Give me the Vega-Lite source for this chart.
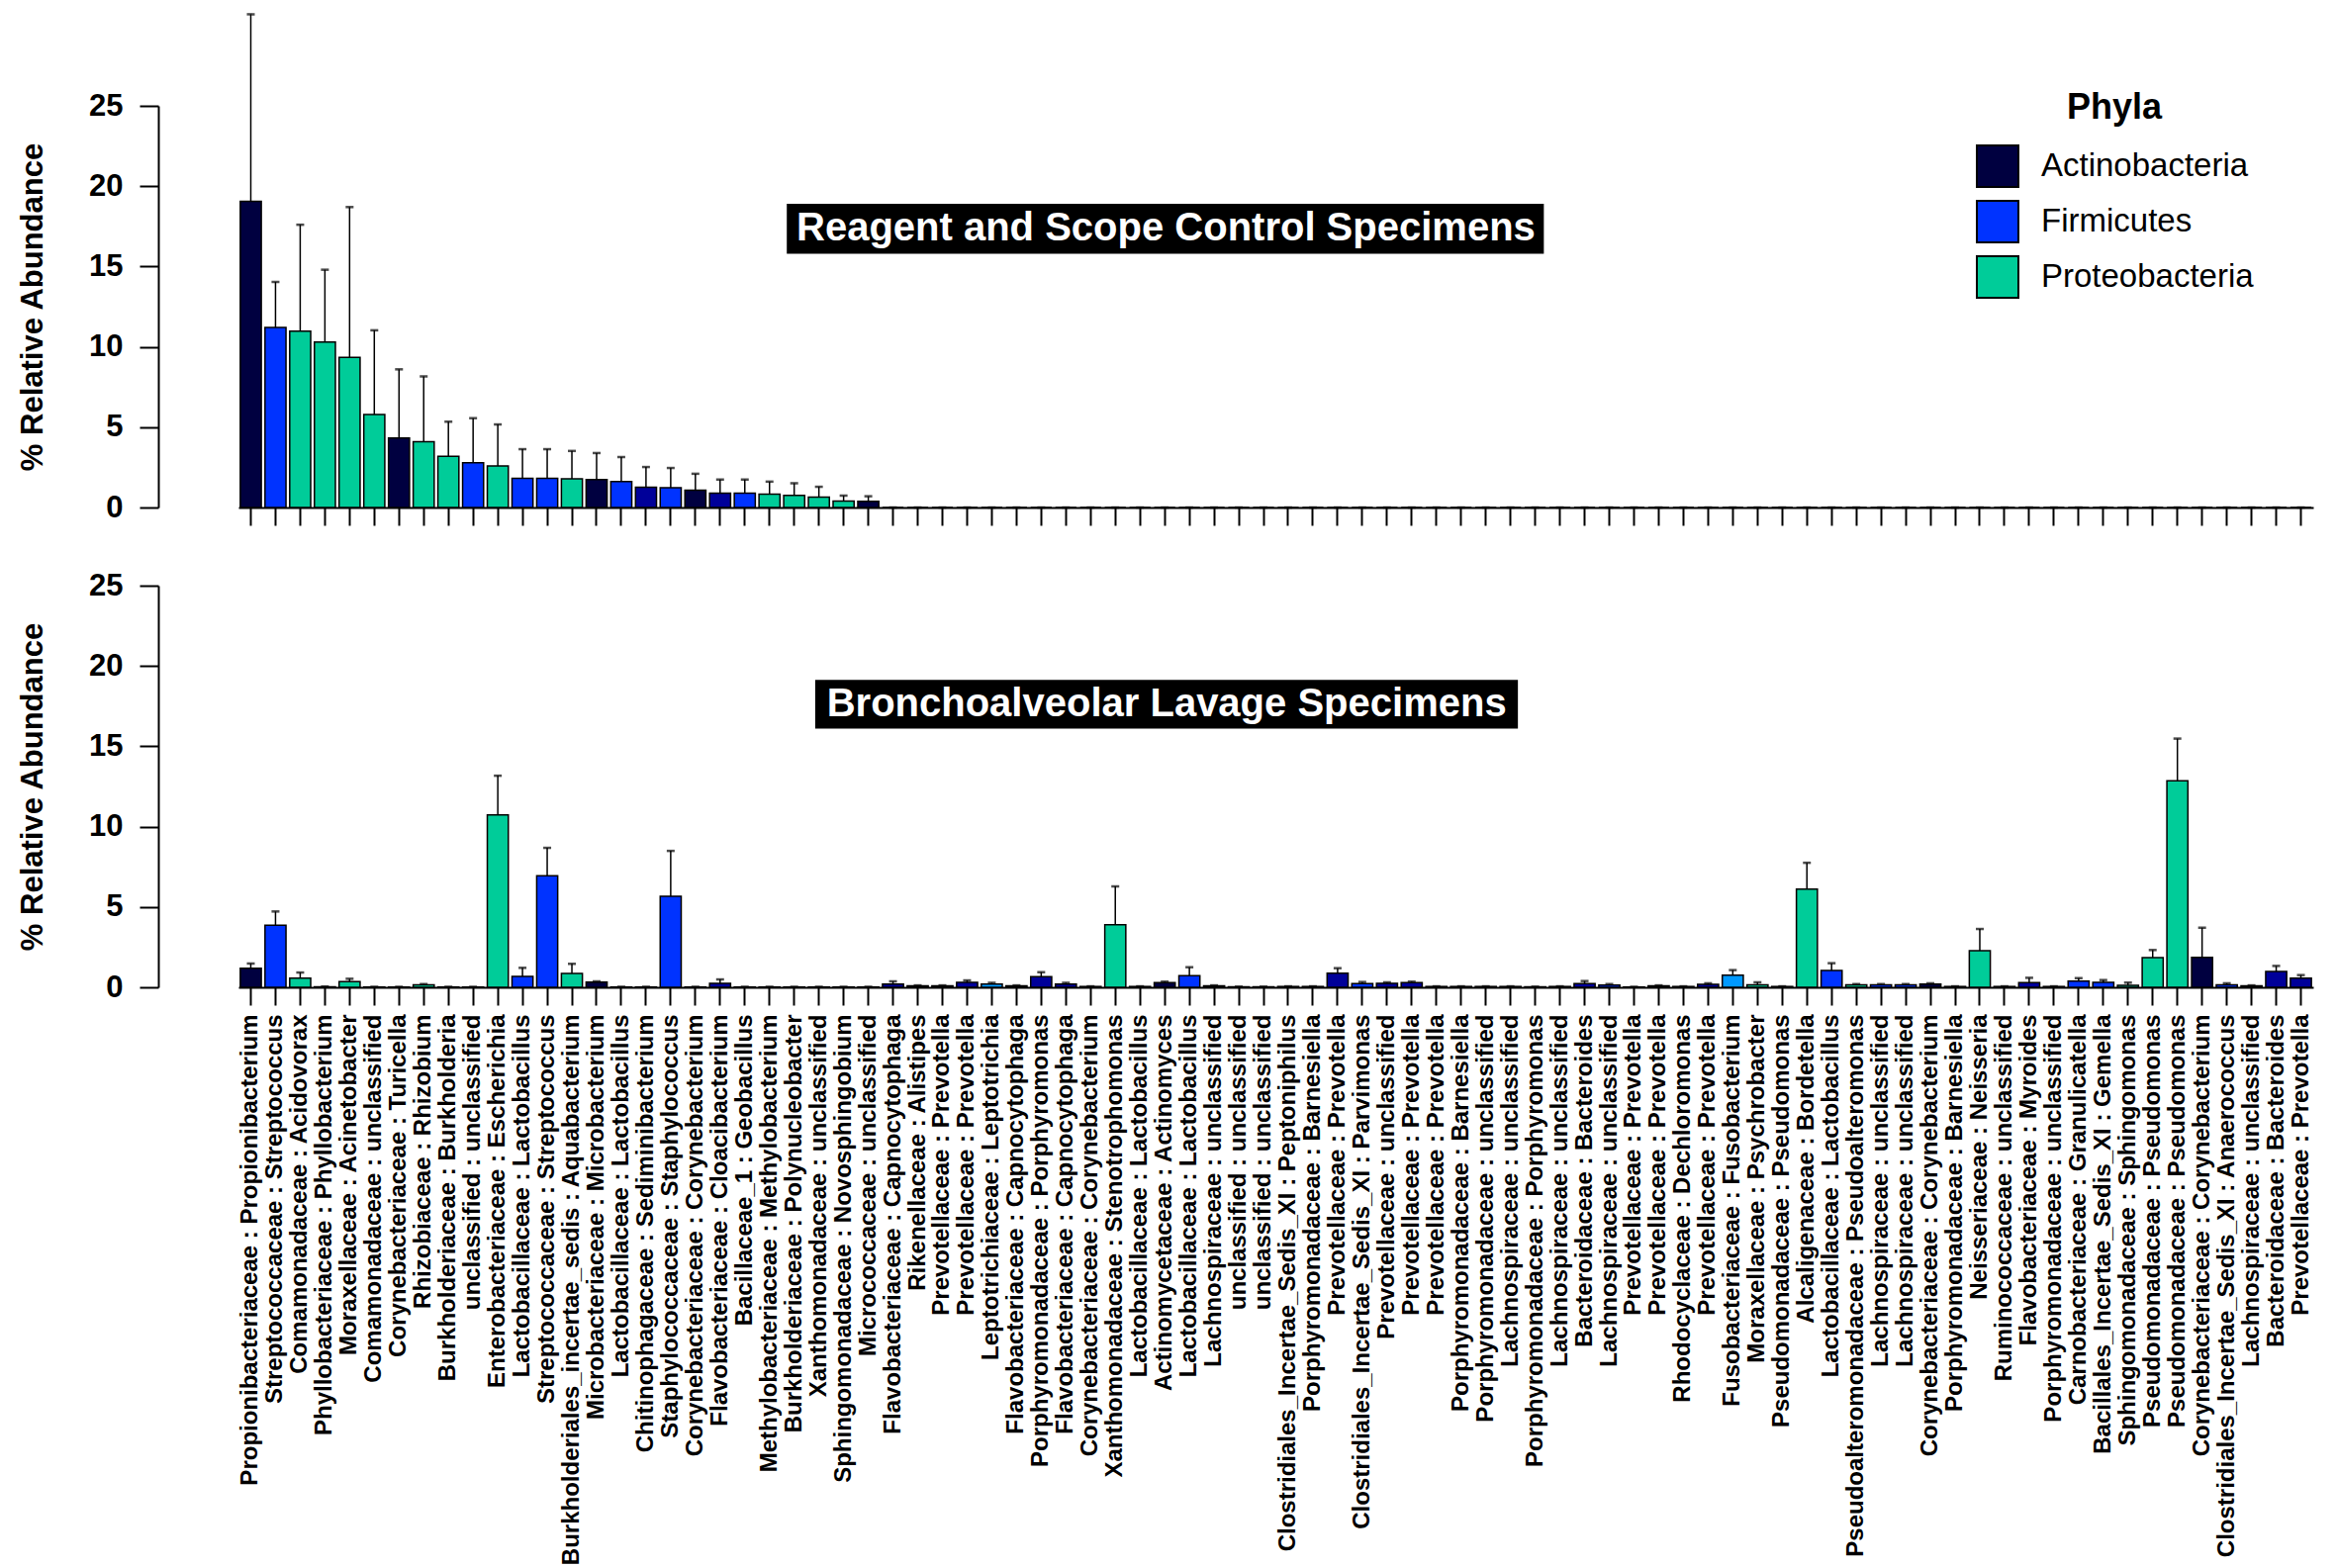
{
  "$schema": "https://vega.github.io/schema/vega-lite/v6.json",
  "background": "white",
  "padding": {"left": 17, "top": 13, "right": 10, "bottom": 2},
  "config": {
    "font": "Liberation Sans",
    "view": {"stroke": null},
    "axis": {"grid": false, "domainColor": "black", "tickColor": "black", "labelColor": "black", "titleColor": "black"}
  },
  "spacing": 44,
  "resolve": {"scale": {"color": "shared"}},
  "datasets": {
    "control": [
      {"taxon": "01|Propionibacteriaceae : Propionibacterium", "phylum": "Actinobacteria", "mean": 19.06, "hi": 30.7},
      {"taxon": "02|Streptococcaceae : Streptococcus", "phylum": "Firmicutes", "mean": 11.2, "hi": 14.04},
      {"taxon": "03|Comamonadaceae : Acidovorax", "phylum": "Proteobacteria", "mean": 10.98, "hi": 17.6},
      {"taxon": "04|Phyllobacteriaceae : Phyllobacterium", "phylum": "Proteobacteria", "mean": 10.3, "hi": 14.8},
      {"taxon": "05|Moraxellaceae : Acinetobacter", "phylum": "Proteobacteria", "mean": 9.35, "hi": 18.7},
      {"taxon": "06|Comamonadaceae : unclassified", "phylum": "Proteobacteria", "mean": 5.79, "hi": 11.03},
      {"taxon": "07|Corynebacteriaceae : Turicella", "phylum": "Actinobacteria", "mean": 4.33, "hi": 8.6},
      {"taxon": "08|Rhizobiaceae : Rhizobium", "phylum": "Proteobacteria", "mean": 4.09, "hi": 8.16},
      {"taxon": "09|Burkholderiaceae : Burkholderia", "phylum": "Proteobacteria", "mean": 3.18, "hi": 5.34},
      {"taxon": "10|unclassified : unclassified", "phylum": "Firmicutes", "mean": 2.78, "hi": 5.56},
      {"taxon": "11|Enterobacteriaceae : Escherichia", "phylum": "Proteobacteria", "mean": 2.59, "hi": 5.17},
      {"taxon": "12|Lactobacillaceae : Lactobacillus", "phylum": "Firmicutes", "mean": 1.82, "hi": 3.63},
      {"taxon": "13|Streptococcaceae : Streptococcus", "phylum": "Firmicutes", "mean": 1.82, "hi": 3.63},
      {"taxon": "14|Burkholderiales_incertae_sedis : Aquabacterium", "phylum": "Proteobacteria", "mean": 1.78, "hi": 3.52},
      {"taxon": "15|Microbacteriaceae : Microbacterium", "phylum": "Actinobacteria", "mean": 1.74, "hi": 3.39},
      {"taxon": "16|Lactobacillaceae : Lactobacillus", "phylum": "Firmicutes", "mean": 1.61, "hi": 3.14},
      {"taxon": "17|Chitinophagaceae : Sediminibacterium", "phylum": "Bacteroidetes", "mean": 1.27, "hi": 2.52},
      {"taxon": "18|Staphylococcaceae : Staphylococcus", "phylum": "Firmicutes", "mean": 1.23, "hi": 2.46},
      {"taxon": "19|Corynebacteriaceae : Corynebacterium", "phylum": "Actinobacteria", "mean": 1.08, "hi": 2.1},
      {"taxon": "20|Flavobacteriaceae : Cloacibacterium", "phylum": "Bacteroidetes", "mean": 0.89, "hi": 1.74},
      {"taxon": "21|Bacillaceae_1 : Geobacillus", "phylum": "Firmicutes", "mean": 0.89, "hi": 1.74},
      {"taxon": "22|Methylobacteriaceae : Methylobacterium", "phylum": "Proteobacteria", "mean": 0.83, "hi": 1.61},
      {"taxon": "23|Burkholderiaceae : Polynucleobacter", "phylum": "Proteobacteria", "mean": 0.76, "hi": 1.51},
      {"taxon": "24|Xanthomonadaceae : unclassified", "phylum": "Proteobacteria", "mean": 0.64, "hi": 1.29},
      {"taxon": "25|Sphingomonadaceae : Novosphingobium", "phylum": "Proteobacteria", "mean": 0.4, "hi": 0.74},
      {"taxon": "26|Micrococcaceae : unclassified", "phylum": "Actinobacteria", "mean": 0.38, "hi": 0.7},
      {"taxon": "27|Flavobacteriaceae : Capnocytophaga", "phylum": "Bacteroidetes", "mean": 0, "hi": 0},
      {"taxon": "28|Rikenellaceae : Alistipes", "phylum": "Bacteroidetes", "mean": 0, "hi": 0},
      {"taxon": "29|Prevotellaceae : Prevotella", "phylum": "Bacteroidetes", "mean": 0, "hi": 0},
      {"taxon": "30|Prevotellaceae : Prevotella", "phylum": "Bacteroidetes", "mean": 0, "hi": 0},
      {"taxon": "31|Leptotrichiaceae : Leptotrichia", "phylum": "Fusobacteria", "mean": 0, "hi": 0},
      {"taxon": "32|Flavobacteriaceae : Capnocytophaga", "phylum": "Bacteroidetes", "mean": 0, "hi": 0},
      {"taxon": "33|Porphyromonadaceae : Porphyromonas", "phylum": "Bacteroidetes", "mean": 0, "hi": 0},
      {"taxon": "34|Flavobacteriaceae : Capnocytophaga", "phylum": "Bacteroidetes", "mean": 0, "hi": 0},
      {"taxon": "35|Corynebacteriaceae : Corynebacterium", "phylum": "Actinobacteria", "mean": 0, "hi": 0},
      {"taxon": "36|Xanthomonadaceae : Stenotrophomonas", "phylum": "Proteobacteria", "mean": 0, "hi": 0},
      {"taxon": "37|Lactobacillaceae : Lactobacillus", "phylum": "Firmicutes", "mean": 0, "hi": 0},
      {"taxon": "38|Actinomycetaceae : Actinomyces", "phylum": "Actinobacteria", "mean": 0, "hi": 0},
      {"taxon": "39|Lactobacillaceae : Lactobacillus", "phylum": "Firmicutes", "mean": 0, "hi": 0},
      {"taxon": "40|Lachnospiraceae : unclassified", "phylum": "Firmicutes", "mean": 0, "hi": 0},
      {"taxon": "41|unclassified : unclassified", "phylum": "Firmicutes", "mean": 0, "hi": 0},
      {"taxon": "42|unclassified : unclassified", "phylum": "Firmicutes", "mean": 0, "hi": 0},
      {"taxon": "43|Clostridiales_Incertae_Sedis_XI : Peptoniphilus", "phylum": "Firmicutes", "mean": 0, "hi": 0},
      {"taxon": "44|Porphyromonadaceae : Barnesiella", "phylum": "Bacteroidetes", "mean": 0, "hi": 0},
      {"taxon": "45|Prevotellaceae : Prevotella", "phylum": "Bacteroidetes", "mean": 0, "hi": 0},
      {"taxon": "46|Clostridiales_Incertae_Sedis_XI : Parvimonas", "phylum": "Firmicutes", "mean": 0, "hi": 0},
      {"taxon": "47|Prevotellaceae : unclassified", "phylum": "Bacteroidetes", "mean": 0, "hi": 0},
      {"taxon": "48|Prevotellaceae : Prevotella", "phylum": "Bacteroidetes", "mean": 0, "hi": 0},
      {"taxon": "49|Prevotellaceae : Prevotella", "phylum": "Bacteroidetes", "mean": 0, "hi": 0},
      {"taxon": "50|Porphyromonadaceae : Barnesiella", "phylum": "Bacteroidetes", "mean": 0, "hi": 0},
      {"taxon": "51|Porphyromonadaceae : unclassified", "phylum": "Bacteroidetes", "mean": 0, "hi": 0},
      {"taxon": "52|Lachnospiraceae : unclassified", "phylum": "Firmicutes", "mean": 0, "hi": 0},
      {"taxon": "53|Porphyromonadaceae : Porphyromonas", "phylum": "Bacteroidetes", "mean": 0, "hi": 0},
      {"taxon": "54|Lachnospiraceae : unclassified", "phylum": "Firmicutes", "mean": 0, "hi": 0},
      {"taxon": "55|Bacteroidaceae : Bacteroides", "phylum": "Bacteroidetes", "mean": 0, "hi": 0},
      {"taxon": "56|Lachnospiraceae : unclassified", "phylum": "Firmicutes", "mean": 0, "hi": 0},
      {"taxon": "57|Prevotellaceae : Prevotella", "phylum": "Bacteroidetes", "mean": 0, "hi": 0},
      {"taxon": "58|Prevotellaceae : Prevotella", "phylum": "Bacteroidetes", "mean": 0, "hi": 0},
      {"taxon": "59|Rhodocyclaceae : Dechloromonas", "phylum": "Proteobacteria", "mean": 0, "hi": 0},
      {"taxon": "60|Prevotellaceae : Prevotella", "phylum": "Bacteroidetes", "mean": 0, "hi": 0},
      {"taxon": "61|Fusobacteriaceae : Fusobacterium", "phylum": "Fusobacteria", "mean": 0, "hi": 0},
      {"taxon": "62|Moraxellaceae : Psychrobacter", "phylum": "Proteobacteria", "mean": 0, "hi": 0},
      {"taxon": "63|Pseudomonadaceae : Pseudomonas", "phylum": "Proteobacteria", "mean": 0, "hi": 0},
      {"taxon": "64|Alcaligenaceae : Bordetella", "phylum": "Proteobacteria", "mean": 0, "hi": 0},
      {"taxon": "65|Lactobacillaceae : Lactobacillus", "phylum": "Firmicutes", "mean": 0, "hi": 0},
      {"taxon": "66|Pseudoalteromonadaceae : Pseudoalteromonas", "phylum": "Proteobacteria", "mean": 0, "hi": 0},
      {"taxon": "67|Lachnospiraceae : unclassified", "phylum": "Firmicutes", "mean": 0, "hi": 0},
      {"taxon": "68|Lachnospiraceae : unclassified", "phylum": "Firmicutes", "mean": 0, "hi": 0},
      {"taxon": "69|Corynebacteriaceae : Corynebacterium", "phylum": "Actinobacteria", "mean": 0, "hi": 0},
      {"taxon": "70|Porphyromonadaceae : Barnesiella", "phylum": "Bacteroidetes", "mean": 0, "hi": 0},
      {"taxon": "71|Neisseriaceae : Neisseria", "phylum": "Proteobacteria", "mean": 0, "hi": 0},
      {"taxon": "72|Ruminococcaceae : unclassified", "phylum": "Firmicutes", "mean": 0, "hi": 0},
      {"taxon": "73|Flavobacteriaceae : Myroides", "phylum": "Bacteroidetes", "mean": 0, "hi": 0},
      {"taxon": "74|Porphyromonadaceae : unclassified", "phylum": "Bacteroidetes", "mean": 0, "hi": 0},
      {"taxon": "75|Carnobacteriaceae : Granulicatella", "phylum": "Firmicutes", "mean": 0, "hi": 0},
      {"taxon": "76|Bacillales_Incertae_Sedis_XI : Gemella", "phylum": "Firmicutes", "mean": 0, "hi": 0},
      {"taxon": "77|Sphingomonadaceae : Sphingomonas", "phylum": "Proteobacteria", "mean": 0, "hi": 0},
      {"taxon": "78|Pseudomonadaceae : Pseudomonas", "phylum": "Proteobacteria", "mean": 0, "hi": 0},
      {"taxon": "79|Pseudomonadaceae : Pseudomonas", "phylum": "Proteobacteria", "mean": 0, "hi": 0},
      {"taxon": "80|Corynebacteriaceae : Corynebacterium", "phylum": "Actinobacteria", "mean": 0, "hi": 0},
      {"taxon": "81|Clostridiales_Incertae_Sedis_XI : Anaerococcus", "phylum": "Firmicutes", "mean": 0, "hi": 0},
      {"taxon": "82|Lachnospiraceae : unclassified", "phylum": "Firmicutes", "mean": 0, "hi": 0},
      {"taxon": "83|Bacteroidaceae : Bacteroides", "phylum": "Bacteroidetes", "mean": 0, "hi": 0},
      {"taxon": "84|Prevotellaceae : Prevotella", "phylum": "Bacteroidetes", "mean": 0, "hi": 0}
    ],
    "bal": [
      {"taxon": "01|Propionibacteriaceae : Propionibacterium", "phylum": "Actinobacteria", "mean": 1.19, "hi": 1.48},
      {"taxon": "02|Streptococcaceae : Streptococcus", "phylum": "Firmicutes", "mean": 3.86, "hi": 4.72},
      {"taxon": "03|Comamonadaceae : Acidovorax", "phylum": "Proteobacteria", "mean": 0.57, "hi": 0.92},
      {"taxon": "04|Phyllobacteriaceae : Phyllobacterium", "phylum": "Proteobacteria", "mean": 0.03, "hi": 0.05},
      {"taxon": "05|Moraxellaceae : Acinetobacter", "phylum": "Proteobacteria", "mean": 0.35, "hi": 0.53},
      {"taxon": "06|Comamonadaceae : unclassified", "phylum": "Proteobacteria", "mean": 0.02, "hi": 0.03},
      {"taxon": "07|Corynebacteriaceae : Turicella", "phylum": "Actinobacteria", "mean": 0.02, "hi": 0.03},
      {"taxon": "08|Rhizobiaceae : Rhizobium", "phylum": "Proteobacteria", "mean": 0.16, "hi": 0.2},
      {"taxon": "09|Burkholderiaceae : Burkholderia", "phylum": "Proteobacteria", "mean": 0.02, "hi": 0.03},
      {"taxon": "10|unclassified : unclassified", "phylum": "Firmicutes", "mean": 0.02, "hi": 0.03},
      {"taxon": "11|Enterobacteriaceae : Escherichia", "phylum": "Proteobacteria", "mean": 10.73, "hi": 13.17},
      {"taxon": "12|Lactobacillaceae : Lactobacillus", "phylum": "Firmicutes", "mean": 0.68, "hi": 1.21},
      {"taxon": "13|Streptococcaceae : Streptococcus", "phylum": "Firmicutes", "mean": 6.95, "hi": 8.68},
      {"taxon": "14|Burkholderiales_incertae_sedis : Aquabacterium", "phylum": "Proteobacteria", "mean": 0.86, "hi": 1.46},
      {"taxon": "15|Microbacteriaceae : Microbacterium", "phylum": "Actinobacteria", "mean": 0.33, "hi": 0.37},
      {"taxon": "16|Lactobacillaceae : Lactobacillus", "phylum": "Firmicutes", "mean": 0.02, "hi": 0.03},
      {"taxon": "17|Chitinophagaceae : Sediminibacterium", "phylum": "Bacteroidetes", "mean": 0.02, "hi": 0.03},
      {"taxon": "18|Staphylococcaceae : Staphylococcus", "phylum": "Firmicutes", "mean": 5.66, "hi": 8.49},
      {"taxon": "19|Corynebacteriaceae : Corynebacterium", "phylum": "Actinobacteria", "mean": 0.02, "hi": 0.03},
      {"taxon": "20|Flavobacteriaceae : Cloacibacterium", "phylum": "Bacteroidetes", "mean": 0.25, "hi": 0.49},
      {"taxon": "21|Bacillaceae_1 : Geobacillus", "phylum": "Firmicutes", "mean": 0.02, "hi": 0.03},
      {"taxon": "22|Methylobacteriaceae : Methylobacterium", "phylum": "Proteobacteria", "mean": 0.02, "hi": 0.03},
      {"taxon": "23|Burkholderiaceae : Polynucleobacter", "phylum": "Proteobacteria", "mean": 0.02, "hi": 0.03},
      {"taxon": "24|Xanthomonadaceae : unclassified", "phylum": "Proteobacteria", "mean": 0.02, "hi": 0.03},
      {"taxon": "25|Sphingomonadaceae : Novosphingobium", "phylum": "Proteobacteria", "mean": 0.02, "hi": 0.03},
      {"taxon": "26|Micrococcaceae : unclassified", "phylum": "Actinobacteria", "mean": 0.02, "hi": 0.03},
      {"taxon": "27|Flavobacteriaceae : Capnocytophaga", "phylum": "Bacteroidetes", "mean": 0.2, "hi": 0.37},
      {"taxon": "28|Rikenellaceae : Alistipes", "phylum": "Bacteroidetes", "mean": 0.1, "hi": 0.12},
      {"taxon": "29|Prevotellaceae : Prevotella", "phylum": "Bacteroidetes", "mean": 0.1, "hi": 0.12},
      {"taxon": "30|Prevotellaceae : Prevotella", "phylum": "Bacteroidetes", "mean": 0.31, "hi": 0.43},
      {"taxon": "31|Leptotrichiaceae : Leptotrichia", "phylum": "Fusobacteria", "mean": 0.2, "hi": 0.28},
      {"taxon": "32|Flavobacteriaceae : Capnocytophaga", "phylum": "Bacteroidetes", "mean": 0.1, "hi": 0.12},
      {"taxon": "33|Porphyromonadaceae : Porphyromonas", "phylum": "Bacteroidetes", "mean": 0.66, "hi": 0.94},
      {"taxon": "34|Flavobacteriaceae : Capnocytophaga", "phylum": "Bacteroidetes", "mean": 0.2, "hi": 0.28},
      {"taxon": "35|Corynebacteriaceae : Corynebacterium", "phylum": "Actinobacteria", "mean": 0.05, "hi": 0.06},
      {"taxon": "36|Xanthomonadaceae : Stenotrophomonas", "phylum": "Proteobacteria", "mean": 3.9, "hi": 6.28},
      {"taxon": "37|Lactobacillaceae : Lactobacillus", "phylum": "Firmicutes", "mean": 0.05, "hi": 0.06},
      {"taxon": "38|Actinomycetaceae : Actinomyces", "phylum": "Actinobacteria", "mean": 0.29, "hi": 0.35},
      {"taxon": "39|Lactobacillaceae : Lactobacillus", "phylum": "Firmicutes", "mean": 0.72, "hi": 1.25},
      {"taxon": "40|Lachnospiraceae : unclassified", "phylum": "Firmicutes", "mean": 0.1, "hi": 0.12},
      {"taxon": "41|unclassified : unclassified", "phylum": "Firmicutes", "mean": 0.03, "hi": 0.04},
      {"taxon": "42|unclassified : unclassified", "phylum": "Firmicutes", "mean": 0.03, "hi": 0.04},
      {"taxon": "43|Clostridiales_Incertae_Sedis_XI : Peptoniphilus", "phylum": "Firmicutes", "mean": 0.05, "hi": 0.06},
      {"taxon": "44|Porphyromonadaceae : Barnesiella", "phylum": "Bacteroidetes", "mean": 0.05, "hi": 0.06},
      {"taxon": "45|Prevotellaceae : Prevotella", "phylum": "Bacteroidetes", "mean": 0.88, "hi": 1.19},
      {"taxon": "46|Clostridiales_Incertae_Sedis_XI : Parvimonas", "phylum": "Firmicutes", "mean": 0.23, "hi": 0.33},
      {"taxon": "47|Prevotellaceae : unclassified", "phylum": "Bacteroidetes", "mean": 0.25, "hi": 0.31},
      {"taxon": "48|Prevotellaceae : Prevotella", "phylum": "Bacteroidetes", "mean": 0.29, "hi": 0.35},
      {"taxon": "49|Prevotellaceae : Prevotella", "phylum": "Bacteroidetes", "mean": 0.05, "hi": 0.06},
      {"taxon": "50|Porphyromonadaceae : Barnesiella", "phylum": "Bacteroidetes", "mean": 0.05, "hi": 0.06},
      {"taxon": "51|Porphyromonadaceae : unclassified", "phylum": "Bacteroidetes", "mean": 0.05, "hi": 0.06},
      {"taxon": "52|Lachnospiraceae : unclassified", "phylum": "Firmicutes", "mean": 0.05, "hi": 0.06},
      {"taxon": "53|Porphyromonadaceae : Porphyromonas", "phylum": "Bacteroidetes", "mean": 0.03, "hi": 0.04},
      {"taxon": "54|Lachnospiraceae : unclassified", "phylum": "Firmicutes", "mean": 0.05, "hi": 0.06},
      {"taxon": "55|Bacteroidaceae : Bacteroides", "phylum": "Bacteroidetes", "mean": 0.23, "hi": 0.39},
      {"taxon": "56|Lachnospiraceae : unclassified", "phylum": "Firmicutes", "mean": 0.14, "hi": 0.2},
      {"taxon": "57|Prevotellaceae : Prevotella", "phylum": "Bacteroidetes", "mean": 0.02, "hi": 0.03},
      {"taxon": "58|Prevotellaceae : Prevotella", "phylum": "Bacteroidetes", "mean": 0.1, "hi": 0.12},
      {"taxon": "59|Rhodocyclaceae : Dechloromonas", "phylum": "Proteobacteria", "mean": 0.05, "hi": 0.06},
      {"taxon": "60|Prevotellaceae : Prevotella", "phylum": "Bacteroidetes", "mean": 0.18, "hi": 0.25},
      {"taxon": "61|Fusobacteriaceae : Fusobacterium", "phylum": "Fusobacteria", "mean": 0.76, "hi": 1.07},
      {"taxon": "62|Moraxellaceae : Psychrobacter", "phylum": "Proteobacteria", "mean": 0.16, "hi": 0.31},
      {"taxon": "63|Pseudomonadaceae : Pseudomonas", "phylum": "Proteobacteria", "mean": 0.05, "hi": 0.06},
      {"taxon": "64|Alcaligenaceae : Bordetella", "phylum": "Proteobacteria", "mean": 6.11, "hi": 7.75},
      {"taxon": "65|Lactobacillaceae : Lactobacillus", "phylum": "Firmicutes", "mean": 1.05, "hi": 1.5},
      {"taxon": "66|Pseudoalteromonadaceae : Pseudoalteromonas", "phylum": "Proteobacteria", "mean": 0.16, "hi": 0.2},
      {"taxon": "67|Lachnospiraceae : unclassified", "phylum": "Firmicutes", "mean": 0.16, "hi": 0.2},
      {"taxon": "68|Lachnospiraceae : unclassified", "phylum": "Firmicutes", "mean": 0.16, "hi": 0.2},
      {"taxon": "69|Corynebacteriaceae : Corynebacterium", "phylum": "Actinobacteria", "mean": 0.2, "hi": 0.25},
      {"taxon": "70|Porphyromonadaceae : Barnesiella", "phylum": "Bacteroidetes", "mean": 0.05, "hi": 0.06},
      {"taxon": "71|Neisseriaceae : Neisseria", "phylum": "Proteobacteria", "mean": 2.28, "hi": 3.63},
      {"taxon": "72|Ruminococcaceae : unclassified", "phylum": "Firmicutes", "mean": 0.05, "hi": 0.06},
      {"taxon": "73|Flavobacteriaceae : Myroides", "phylum": "Bacteroidetes", "mean": 0.29, "hi": 0.59},
      {"taxon": "74|Porphyromonadaceae : unclassified", "phylum": "Bacteroidetes", "mean": 0.05, "hi": 0.06},
      {"taxon": "75|Carnobacteriaceae : Granulicatella", "phylum": "Firmicutes", "mean": 0.39, "hi": 0.57},
      {"taxon": "76|Bacillales_Incertae_Sedis_XI : Gemella", "phylum": "Firmicutes", "mean": 0.31, "hi": 0.45},
      {"taxon": "77|Sphingomonadaceae : Sphingomonas", "phylum": "Proteobacteria", "mean": 0.12, "hi": 0.29},
      {"taxon": "78|Pseudomonadaceae : Pseudomonas", "phylum": "Proteobacteria", "mean": 1.85, "hi": 2.32},
      {"taxon": "79|Pseudomonadaceae : Pseudomonas", "phylum": "Proteobacteria", "mean": 12.86, "hi": 15.48},
      {"taxon": "80|Corynebacteriaceae : Corynebacterium", "phylum": "Actinobacteria", "mean": 1.87, "hi": 3.71},
      {"taxon": "81|Clostridiales_Incertae_Sedis_XI : Anaerococcus", "phylum": "Firmicutes", "mean": 0.16, "hi": 0.25},
      {"taxon": "82|Lachnospiraceae : unclassified", "phylum": "Firmicutes", "mean": 0.1, "hi": 0.12},
      {"taxon": "83|Bacteroidaceae : Bacteroides", "phylum": "Bacteroidetes", "mean": 0.98, "hi": 1.33},
      {"taxon": "84|Prevotellaceae : Prevotella", "phylum": "Bacteroidetes", "mean": 0.57, "hi": 0.76}
    ]
  },
  "vconcat": [
    {
      "width": 2097,
      "height": 406,
      "resolve": {"scale": {"x": "independent"}},
      "layer": [
        {
          "data": {"name": "control"},
          "encoding": {
            "x": {
              "field": "taxon", "type": "nominal", "sort": null,
              "scale": {"paddingInner": 0.15, "paddingOuter": 0.075},
              "axis": {"title": null, "labels": false, "ticks": true, "tickSize": 18, "tickWidth": 2, "domain": true, "domainWidth": 2}
            }
          },
          "layer": [
            {
              "mark": {"type": "bar", "stroke": "black", "strokeWidth": 1.5},
              "encoding": {
                "y": {
                  "field": "mean", "type": "quantitative",
                  "scale": {"domain": [0, 25], "nice": false},
                  "axis": {"title": "% Relative Abundance", "values": [0, 5, 10, 15, 20, 25], "offset": 81, "tickSize": 19, "tickWidth": 2, "domainWidth": 2, "labelFontSize": 31, "labelFontWeight": "bold", "labelPadding": 17, "titleFontSize": 31, "titleFontWeight": "bold", "titlePadding": 40}
                },
                "color": {
                  "field": "phylum", "type": "nominal",
                  "scale": {"domain": ["Actinobacteria", "Firmicutes", "Proteobacteria", "Bacteroidetes", "Fusobacteria"], "range": ["#000040", "#0033ff", "#00cc99", "#000099", "#0099ff"]},
                  "legend": {"title": "Phyla", "orient": "none", "legendX": 1756, "legendY": -15, "values": ["Actinobacteria", "Firmicutes", "Proteobacteria"], "symbolType": "square", "symbolSize": 1764, "symbolStrokeColor": "black", "symbolStrokeWidth": 2, "symbolOpacity": 1, "labelFontSize": 33, "labelOffset": 22, "labelLimit": 400, "rowPadding": 6, "titleFontSize": 36, "titleFontWeight": "bold", "titleAnchor": "middle", "titlePadding": 18}
                }
              }
            },
            {
              "mark": {"type": "rule", "color": "black", "strokeWidth": 1.5},
              "encoding": {
                "y": {"field": "mean", "type": "quantitative"},
                "y2": {"field": "hi"}
              }
            },
            {
              "mark": {"type": "tick", "color": "black", "thickness": 2.5, "size": 8},
              "encoding": {
                "y": {"field": "hi", "type": "quantitative"}
              }
            }
          ]
        },
        {
          "data": {"values": [{"title": "Reagent and Scope Control Specimens"}]},
          "layer": [
            {
              "mark": {"type": "rect", "color": "black"},
              "encoding": {
                "x": {"datum": 22.2, "type": "quantitative", "scale": {"domain": [0, 84], "nice": false, "zero": false}, "axis": null},
                "x2": {"datum": 52.85},
                "y": {"datum": 18.9, "type": "quantitative"},
                "y2": {"datum": 15.8}
              }
            },
            {
              "mark": {"type": "text", "color": "white", "fontSize": 40, "fontWeight": "bold", "align": "center", "baseline": "middle"},
              "encoding": {
                "x": {"datum": 37.55, "type": "quantitative"},
                "y": {"datum": 17.35, "type": "quantitative"},
                "text": {"field": "title"}
              }
            }
          ]
        }
      ]
    },
    {
      "width": 2097,
      "height": 406,
      "resolve": {"scale": {"x": "independent"}},
      "layer": [
        {
          "data": {"name": "bal"},
          "encoding": {
            "x": {
              "field": "taxon", "type": "nominal", "sort": null,
              "scale": {"paddingInner": 0.15, "paddingOuter": 0.075},
              "axis": {"title": null, "labelExpr": "split(datum.value, '|')[1]", "labelAngle": 270, "labelFontSize": 24, "labelFontWeight": "bold", "labelLimit": 700, "labelPadding": 9, "tickSize": 18, "tickWidth": 2, "domain": true, "domainWidth": 2}
            }
          },
          "layer": [
            {
              "mark": {"type": "bar", "stroke": "black", "strokeWidth": 1.5},
              "encoding": {
                "y": {
                  "field": "mean", "type": "quantitative",
                  "scale": {"domain": [0, 25], "nice": false},
                  "axis": {"title": "% Relative Abundance", "values": [0, 5, 10, 15, 20, 25], "offset": 81, "tickSize": 19, "tickWidth": 2, "domainWidth": 2, "labelFontSize": 31, "labelFontWeight": "bold", "labelPadding": 17, "titleFontSize": 31, "titleFontWeight": "bold", "titlePadding": 40}
                },
                "color": {
                  "field": "phylum", "type": "nominal",
                  "legend": {"title": "Phyla", "orient": "none", "legendX": 1756, "legendY": -15, "values": ["Actinobacteria", "Firmicutes", "Proteobacteria"], "symbolType": "square", "symbolSize": 1764, "symbolStrokeColor": "black", "symbolStrokeWidth": 2, "symbolOpacity": 1, "labelFontSize": 33, "labelOffset": 22, "labelLimit": 400, "rowPadding": 6, "titleFontSize": 36, "titleFontWeight": "bold", "titleAnchor": "middle", "titlePadding": 18}
                }
              }
            },
            {
              "mark": {"type": "rule", "color": "black", "strokeWidth": 1.5},
              "encoding": {
                "y": {"field": "mean", "type": "quantitative"},
                "y2": {"field": "hi"}
              }
            },
            {
              "mark": {"type": "tick", "color": "black", "thickness": 2.5, "size": 8},
              "encoding": {
                "y": {"field": "hi", "type": "quantitative"}
              }
            }
          ]
        },
        {
          "data": {"values": [{"title": "Bronchoalveolar Lavage Specimens"}]},
          "layer": [
            {
              "mark": {"type": "rect", "color": "black"},
              "encoding": {
                "x": {"datum": 23.35, "type": "quantitative", "scale": {"domain": [0, 84], "nice": false, "zero": false}, "axis": null},
                "x2": {"datum": 51.8},
                "y": {"datum": 19.14, "type": "quantitative"},
                "y2": {"datum": 16.1}
              }
            },
            {
              "mark": {"type": "text", "color": "white", "fontSize": 40, "fontWeight": "bold", "align": "center", "baseline": "middle"},
              "encoding": {
                "x": {"datum": 37.58, "type": "quantitative"},
                "y": {"datum": 17.62, "type": "quantitative"},
                "text": {"field": "title"}
              }
            }
          ]
        }
      ]
    }
  ]
}
